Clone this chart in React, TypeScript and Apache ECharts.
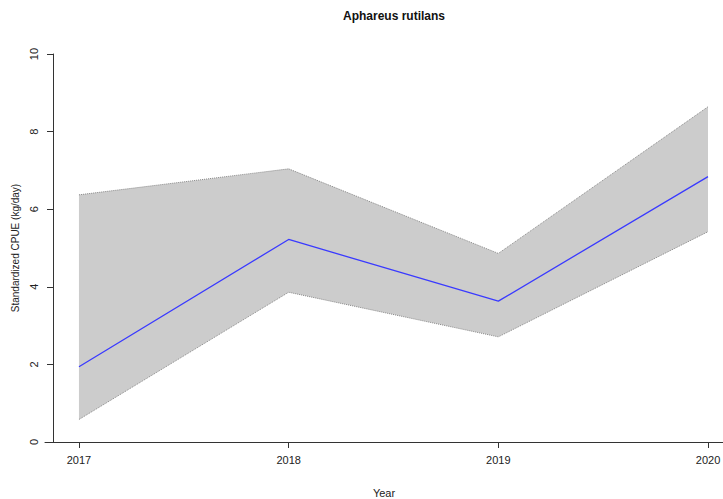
import React, { useEffect, useRef } from "react";
import * as echarts from "echarts";

const years = [2017, 2018, 2019, 2020];
const meanCpue = [1.94, 5.22, 3.63, 6.84];
const upperCpue = [6.37, 7.04, 4.86, 8.64];
const lowerCpue = [0.58, 3.86, 2.71, 5.42];
const yTicks = [0, 2, 4, 6, 8, 10];

const FONT = "Liberation Sans, Arial, sans-serif";

export default function App() {
  const ref = useRef<HTMLDivElement>(null);
  useEffect(() => {
    if (!ref.current) return;
    const chart = echarts.init(ref.current, null, { renderer: "svg" });
    const lowerData = years.map((y, i) => [y, lowerCpue[i]]);
    const upperData = years.map((y, i) => [y, upperCpue[i]]);
    const meanData = years.map((y, i) => [y, meanCpue[i]]);
    chart.setOption({
      animation: false,
      backgroundColor: "#ffffff",
      title: {
        text: "Aphareus rutilans",
        left: 338,
        top: 5,
        textStyle: { fontFamily: FONT, fontSize: 12, fontWeight: "bold", color: "#111" },
      },
      grid: { left: 45, right: 0, top: 54, bottom: 57, containLabel: false, outerBoundsMode: "none" },
      xAxis: {
        type: "value",
        min: 2016.838,
        max: 2020.0715,
        name: "Year",
        nameLocation: "middle",
        nameGap: 45,
        nameTextStyle: { fontFamily: FONT, fontSize: 11, color: "#222" },
        splitLine: { show: false },
        axisLine: { show: true, lineStyle: { color: "#333", width: 1 } },
        axisTick: { show: true, length: 6, lineStyle: { color: "#333" }, customValues: years },
        axisLabel: {
          customValues: years,
          margin: 12,
          fontFamily: FONT,
          fontSize: 11,
          color: "#222",
          formatter: (v: number) => String(Math.round(v)),
        },
      },
      yAxis: {
        type: "value",
        min: 0,
        max: 10,
        interval: 2,
        offset: -8,
        name: "Standardized CPUE (kg/day)",
        nameLocation: "middle",
        nameRotate: 90,
        nameGap: 32,
        nameTextStyle: { fontFamily: FONT, fontSize: 10, color: "#222" },
        splitLine: { show: false },
        axisLine: { show: true, lineStyle: { color: "#333", width: 1 } },
        axisTick: { show: true, length: 6, lineStyle: { color: "#333" } },
        axisLabel: {
          customValues: yTicks,
          rotate: 90,
          margin: 14,
          fontFamily: FONT,
          fontSize: 11,
          color: "#222",
        },
      },
      series: [
        {
          type: "custom",
          data: [0],
          z: 1,
          renderItem: (params: any, api: any) => {
            const pts: number[][] = [];
            years.forEach((y, i) => pts.push(api.coord([y, upperCpue[i]])));
            for (let i = years.length - 1; i >= 0; i--) pts.push(api.coord([years[i], lowerCpue[i]]));
            return {
              type: "polygon",
              shape: { points: pts },
              style: { fill: "#cccccc", stroke: "none" },
            };
          },
        },
        {
          type: "line",
          data: upperData,
          symbol: "none",
          lineStyle: { color: "#888", width: 1, type: "dotted" },
          z: 2,
        },
        {
          type: "line",
          data: lowerData,
          symbol: "none",
          lineStyle: { color: "#888", width: 1, type: "dotted" },
          z: 2,
        },
        {
          type: "line",
          data: meanData,
          symbol: "none",
          lineStyle: { color: "#3a3aff", width: 1.3 },
          z: 3,
        },
      ],
    });
    return () => chart.dispose();
  }, []);
  return <div ref={ref} style={{ position: "fixed", left: 0, top: 0, width: 723, height: 499 }} />;
}
